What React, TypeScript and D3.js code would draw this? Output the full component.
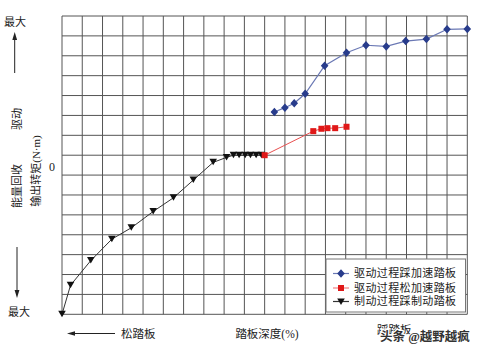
import React from "react";
import * as d3 from "d3";

const driveX = [52.4, 55, 57.3, 60, 64.8, 70.2, 75, 80, 84.8, 89.9, 95, 100];
const driveY = [2.17, 2.39, 2.61, 3.09, 4.5, 5.15, 5.53, 5.47, 5.74, 5.84, 6.33, 6.35];
const releaseX = [50, 62, 64, 65.5, 67.4, 70.2];
const releaseY = [0, 1.21, 1.33, 1.36, 1.36, 1.43];
const brakeX = [0, 2.1, 7.1, 12.3, 17.1, 22.5, 27.5, 32.4, 37.3, 40.6, 42.3, 43.7, 45.2, 46.5, 47.9, 49.2];
const brakeY = [-8, -6.54, -5.3, -4.22, -3.65, -2.83, -2.14, -1.25, -0.36, -0.11, 0, 0, 0, 0, 0, 0];
const legendLabels = ["驱动过程踩加速踏板", "驱动过程松加速踏板", "制动过程踩制动踏板"];

const FONT = "'Liberation Serif', 'Noto Sans CJK SC', serif";

export default function App() {
  const x = d3.scaleLinear().domain([0, 100]).range([62, 467.3]);
  const y = d3.scaleLinear().domain([-8, 7]).range([314.3, 16]);
  const xt = d3.range(0, 101, 5);
  const yt = d3.range(-8, 7.01, 1);
  const line = d3.line<[number, number]>().x((d) => x(d[0])).y((d) => y(d[1]));
  const drive = driveX.map((v, i) => [v, driveY[i]] as [number, number]);
  const release = releaseX.map((v, i) => [v, releaseY[i]] as [number, number]);
  const brake = brakeX.map((v, i) => [v, brakeY[i]] as [number, number]);

  const diamond = (cx: number, cy: number, k: string) => (
    <path key={k} d={`M${cx},${cy - 4.2}L${cx + 3.8},${cy}L${cx},${cy + 4.2}L${cx - 3.8},${cy}Z`} fill="#283c8c" />
  );
  const square = (cx: number, cy: number, k: string) => (
    <rect key={k} x={cx - 3} y={cy - 3} width={6} height={6} fill="#e01818" />
  );
  const tri = (cx: number, cy: number, k: string) => (
    <path key={k} d={`M${cx - 3.8},${cy - 3.5}L${cx + 3.8},${cy - 3.5}L${cx},${cy + 3}Z`} fill="#111" />
  );

  const legY = [273.5, 288, 301.5];

  return (
    <svg width={480} height={352} style={{ position: "absolute", left: 0, top: 0, background: "#fff" }} fontFamily={FONT}>
      <rect x={0} y={0} width={480} height={352} fill="#fff" />
      {xt.map((t) => (
        <line key={"gx" + t} x1={x(t)} x2={x(t)} y1={y(7)} y2={y(-8)} stroke="#555" strokeWidth={1} />
      ))}
      {yt.map((t) => (
        <line key={"gy" + t} x1={x(0)} x2={x(100)} y1={y(t)} y2={y(t)} stroke="#555" strokeWidth={1} />
      ))}

      <path d={line(brake) || ""} fill="none" stroke="#333" strokeWidth={1} />
      <path d={line(release) || ""} fill="none" stroke="#e85050" strokeWidth={1} />
      <path d={line(drive) || ""} fill="none" stroke="#6a78b4" strokeWidth={1.2} />
      {brake.map((d, i) => tri(x(d[0]), y(d[1]), "b" + i))}
      {release.map((d, i) => square(x(d[0]), y(d[1]), "r" + i))}
      {drive.map((d, i) => diamond(x(d[0]), y(d[1]), "d" + i))}

      {/* legend */}
      <rect x={326} y={259} width={139.5} height={53} fill="#fff" stroke="#777" strokeWidth={1} />
      {legendLabels.map((lab, i) => (
        <g key={lab}>
          <line x1={333} x2={349} y1={legY[i]} y2={legY[i]} stroke={i === 0 ? "#6a78b4" : i === 1 ? "#f08080" : "#333"} strokeWidth={1.2} />
          {i === 0 && diamond(341, legY[i], "ld")}
          {i === 1 && square(341, legY[i], "ls")}
          {i === 2 && tri(341, legY[i] + 0.5, "lt")}
          <text x={354} y={legY[i]} dy="0.36em" fontSize={11} textLength={102} lengthAdjust="spacing" fill="#222">{lab}</text>
        </g>
      ))}

      {/* left annotations */}
      <text x={15} y={22} textAnchor="middle" dy="0.35em" fontSize={11} fill="#222">最大</text>
      <line x1={14.7} x2={14.7} y1={73} y2={38} stroke="#222" strokeWidth={1} />
      <path d="M14.7,32 L12.3,40 L17.1,40 Z" fill="#222" />
      <text transform="translate(17,119) rotate(-90)" textAnchor="middle" dy="0.35em" fontSize={11} fill="#222">驱动</text>
      <text transform="translate(17,186) rotate(-90)" textAnchor="middle" dy="0.35em" fontSize={11} fill="#222">能量回收</text>
      <text transform="translate(36,171) rotate(-90)" textAnchor="middle" dy="0.35em" fontSize={11} fill="#222">输出转矩(N·m)</text>
      <text x={52} y={167} textAnchor="middle" dy="0.35em" fontSize={12} fill="#222">0</text>
      <line x1={17} x2={17} y1={247} y2={292} stroke="#222" strokeWidth={1} />
      <path d="M17,298 L14.6,290 L19.4,290 Z" fill="#222" />
      <text x={19} y={312} textAnchor="middle" dy="0.35em" fontSize={11} fill="#222">最大</text>

      {/* bottom annotations */}
      <line x1={73} x2={115} y1={333.5} y2={333.5} stroke="#222" strokeWidth={1} />
      <path d="M67,333.5 L75,331.3 L75,335.7 Z" fill="#222" />
      <text x={121} y={333.5} dy="0.35em" fontSize={11.5} fill="#222">松踏板</text>
      <text x={267} y={333.5} textAnchor="middle" dy="0.35em" fontSize={11.5} fill="#222">踏板深度(%)</text>
      <text x={377} y={330} dy="0.35em" fontSize={11.5} fill="#222">踩踏板</text>
      <text x={380} y={337} dy="0.35em" fontSize={12.5} fill="#333" stroke="#fff" strokeWidth={2.5} paintOrder="stroke" fontWeight="bold">头条 @越野越疯</text>
    </svg>
  );
}
